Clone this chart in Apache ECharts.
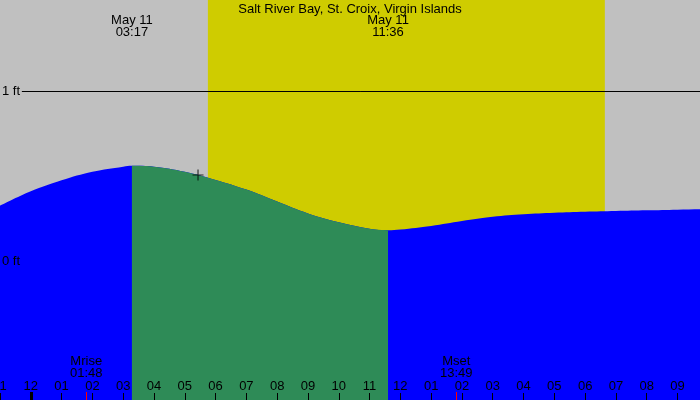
<html>
<head>
<meta charset="UTF-8">
<script src="https://cdn.jsdelivr.net/npm/echarts@6/dist/echarts.min.js"></script>
<title>Salt River Bay tide</title>
<style>
  html, body { margin: 0; padding: 0; background: #c0c0c0; }
  #main { width: 700px; height: 400px; }
</style>
</head>
<body>
<div id="main"></div>
<script type="text/javascript">
	// tide curve, hours from midnight May 11 -> feet
	var tideHours = [-1, 0, 1, 2, 3, 3.283, 4, 5, 6, 7, 8, 9, 10, 11, 11.6, 12, 13, 14, 15, 16, 17, 18, 19, 20, 21, 22];
	var tideFeet = [0.325, 0.41, 0.475, 0.525, 0.555, 0.56, 0.555, 0.525, 0.477, 0.42, 0.35, 0.28, 0.228, 0.19, 0.181, 0.185, 0.206, 0.235, 0.26, 0.275, 0.284, 0.29, 0.294, 0.298, 0.302, 0.305];

	// high / low tide
	var extremeHours = [3.283, 11.6];
	var extremeLabels = ['May 11\n03:17', 'May 11\n11:36'];

	// sun and moon
	var sunrise = 5.75;
	var sunset = 18.64;
	var moonHours = [1.8, 13.817];
	var moonLabels = ['Mrise\n01:48', 'Mset\n13:49'];

	// current time marker
	var nowPoint = [5.43, 0.506];

	var hourTicks = [];
	for (var h = -1; h <= 21; h++) hourTicks.push(h);
	var hourLabels = ['11', '12', '01', '02', '03', '04', '05', '06', '07', '08', '09', '10', '11',
		'12', '01', '02', '03', '04', '05', '06', '07', '08', '09'];

	var xMin = -1, xMax = 21.73;
	var font = 'Liberation Sans';

	var blueData = [], greenData = [];
	for (var i = 0; i < tideHours.length; i++) {
		blueData.push([tideHours[i], tideFeet[i]]);
		if (tideHours[i] >= extremeHours[0] && tideHours[i] <= extremeHours[1])
			greenData.push([tideHours[i], tideFeet[i]]);
	}

	var myChart = echarts.init(document.getElementById('main'));
	var option = {
		backgroundColor: '#c0c0c0',
		animation: false,
		title: {
			text: 'Salt River Bay, St. Croix, Virgin Islands',
			left: 'center',
			top: -2,
			textStyle: { fontSize: 13, fontWeight: 'normal', color: '#000', fontFamily: font }
		},
		grid: { left: 0, right: 0, top: 0, bottom: 0, containLabel: false, outerBoundsMode: 'none' },
		xAxis: [{
			type: 'value', min: xMin, max: xMax, z: 10,
			axisLine: { show: false, onZero: false },
			splitLine: { show: false },
			axisTick: { inside: true, length: 7, customValues: hourTicks, lineStyle: { color: '#000' } },
			axisLabel: {
				inside: true, margin: 7, customValues: hourTicks, showMinLabel: true, showMaxLabel: true,
				color: '#000', fontSize: 13, fontFamily: font,
				formatter: function (v) { return hourLabels[Math.round(v) + 1]; }
			}
		}, {
			type: 'value', min: xMin, max: xMax, position: 'bottom', z: 10,
			axisLine: { show: false, onZero: false },
			splitLine: { show: false },
			axisTick: { inside: true, length: 8, customValues: [0], lineStyle: { color: '#000', width: 3 } },
			axisLabel: { show: false }
		}, {
			type: 'value', min: xMin, max: xMax, position: 'bottom', z: 10,
			axisLine: { show: false, onZero: false },
			splitLine: { show: false },
			axisTick: { inside: true, length: 8, customValues: moonHours, lineStyle: { color: '#ff0000' } },
			axisLabel: {
				inside: true, margin: 21, customValues: moonHours,
				color: '#000', fontSize: 13, fontFamily: font, lineHeight: 12,
				formatter: function (v) { return moonLabels[moonHours.indexOf(v)]; }
			}
		}, {
			type: 'value', min: xMin, max: xMax, position: 'top', z: 10,
			axisLine: { show: false, onZero: false },
			splitLine: { show: false },
			axisTick: { show: false },
			axisLabel: {
				inside: true, margin: 14, customValues: extremeHours,
				color: '#000', fontSize: 13, fontFamily: font, lineHeight: 12,
				formatter: function (v) { return extremeLabels[extremeHours.indexOf(v)]; }
			}
		}],
		yAxis: {
			type: 'value', min: -0.8176, max: 1.5353, z: 10,
			axisLine: { show: false, onZero: false },
			axisTick: { show: false },
			splitLine: { show: false },
			axisLabel: {
				inside: true, margin: 2, customValues: [0, 1],
				color: '#000', fontSize: 13, fontFamily: font,
				formatter: '{value} ft'
			}
		},
		series: [{
			name: 'daylight',
			type: 'line',
			data: [],
			z: 1,
			silent: true,
			markArea: {
				silent: true,
				itemStyle: { color: '#cfcc00' },
				data: [[{ xAxis: sunrise }, { xAxis: sunset }]]
			}
		}, {
			name: 'tide',
			type: 'line',
			data: blueData,
			smooth: 0.4,
			showSymbol: false,
			z: 2,
			silent: true,
			lineStyle: { width: 0 },
			areaStyle: { color: '#0000ff', opacity: 1, origin: 'start' }
		}, {
			name: 'falling',
			type: 'line',
			data: greenData,
			smooth: 0.4,
			showSymbol: false,
			z: 3,
			silent: true,
			lineStyle: { width: 0 },
			areaStyle: { color: '#2e8b57', opacity: 1, origin: 'start' }
		}, {
			name: 'now',
			type: 'scatter',
			data: [nowPoint],
			z: 5,
			silent: true,
			symbol: 'path://M4.5,0H5.5V4.5H10V5.5H5.5V10H4.5V5.5H0V4.5H4.5Z',
			symbolSize: 11,
			itemStyle: { color: '#000' },
			markLine: {
				silent: true,
				symbol: 'none',
				label: { show: false },
				lineStyle: { color: '#000', width: 1, type: 'solid' },
				data: [[{ coord: [-0.29, 1] }, { coord: [xMax, 1] }]]
			}
		}]
	};
	myChart.setOption(option);
</script>
</body>
</html>
